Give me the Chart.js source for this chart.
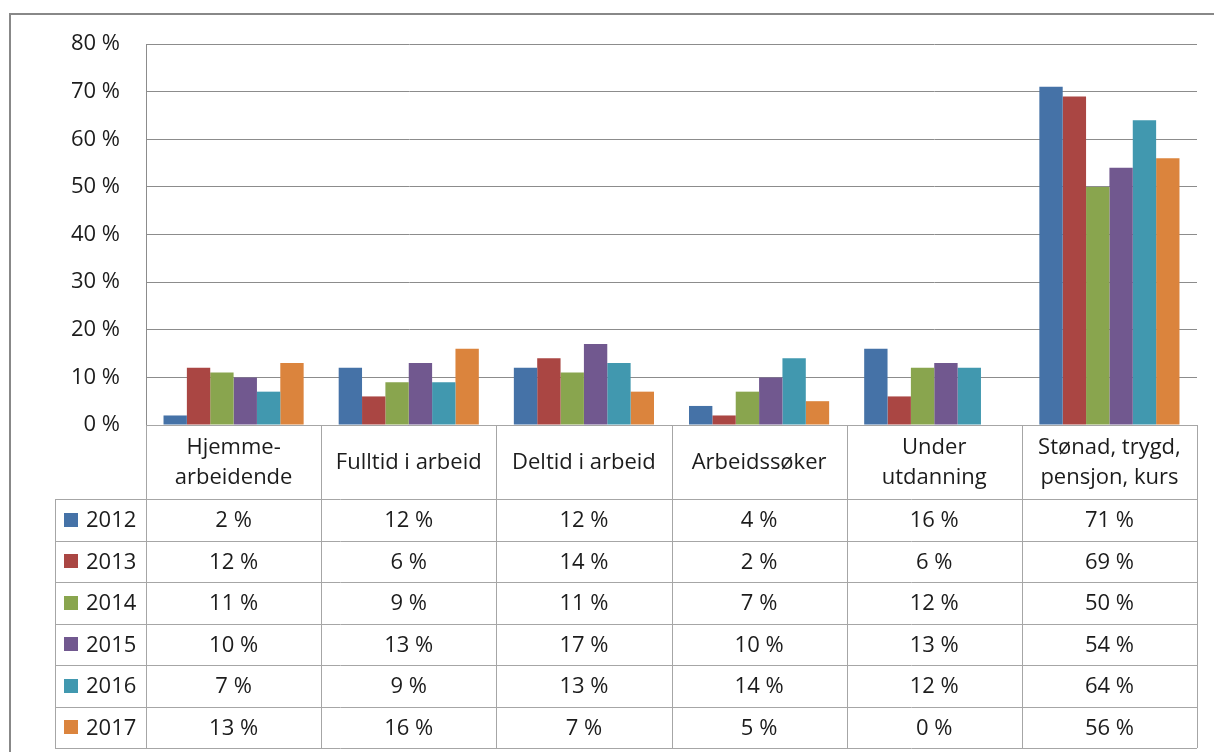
<!doctype html>
<html lang="no">
<head>
<meta charset="utf-8">
<title>Status etter år</title>
<script src="https://cdn.jsdelivr.net/npm/chart.js@4.4.1/dist/chart.umd.min.js"></script>
<style>
  html, body { margin: 0; padding: 0; background: #fff; }
  #wrap { position: relative; width: 1214px; height: 752px; }
</style>
</head>
<body>
<div id="wrap">
  <canvas id="myChart" width="1214" height="752"></canvas>
</div>
<script>
// data
var categories = [["Hjemme-", "arbeidende"], "Fulltid i arbeid", "Deltid i arbeid", "Arbeidssøker", ["Under", "utdanning"], ["Stønad, trygd,", "pensjon, kurs"]];
var years = ["2012", "2013", "2014", "2015", "2016", "2017"];
var v2012 = [2, 12, 12, 4, 16, 71];
var v2013 = [12, 6, 14, 2, 6, 69];
var v2014 = [11, 9, 11, 7, 12, 50];
var v2015 = [10, 13, 17, 10, 13, 54];
var v2016 = [7, 9, 13, 14, 12, 64];
var v2017 = [13, 16, 7, 5, 0, 56];
var yMax = 80, yStep = 10;

var colors = ["#4572A7", "#AA4643", "#89A54E", "#71588F", "#4198AF", "#DB843D"];
var values = [v2012, v2013, v2014, v2015, v2016, v2017];
var FONT = "'Open Sans', sans-serif";
var FSIZE = 22;
var TXT = "#1c1c1c";

function pct(v) { return v + " %"; }

// draws the data table under the plot + the outer frame
var tablePlugin = {
  id: "dataTable",
  afterDraw: function (chart) {
    var ctx = chart.ctx, x = chart.scales.x, area = chart.chartArea;
    var n = categories.length;
    var colW = (area.right - area.left) / n;
    var top = Math.round(area.bottom), headH = 74, rowH = 41.5, labelL = 55;
    var bottom = top + headH + rowH * years.length;
    var i, j, y, cx;

    ctx.save();
    ctx.strokeStyle = "#a6a6a6";
    ctx.lineWidth = 1;
    ctx.beginPath();
    // horizontal lines
    ctx.moveTo(area.left, top + 0.5);
    ctx.lineTo(area.right, top + 0.5);
    for (j = 0; j <= years.length; j++) {
      y = Math.round(top + headH + j * rowH) + 0.5;
      ctx.moveTo(labelL, y);
      ctx.lineTo(area.right, y);
    }
    // vertical lines
    ctx.moveTo(labelL + 0.5, top + headH);
    ctx.lineTo(labelL + 0.5, bottom);
    for (i = 0; i <= n; i++) {
      var lx = Math.round(area.left + i * colW) + 0.5;
      ctx.moveTo(lx, top);
      ctx.lineTo(lx, bottom);
    }
    ctx.stroke();

    // category header
    ctx.fillStyle = TXT;
    ctx.font = FSIZE + "px " + FONT;
    ctx.textAlign = "center";
    ctx.textBaseline = "middle";
    for (i = 0; i < n; i++) {
      cx = x.getPixelForValue(i);
      var lines = [].concat(categories[i]);
      var lh = 30;
      var y0 = top + headH / 2 - (lines.length - 1) * lh / 2 + 1;
      for (j = 0; j < lines.length; j++) ctx.fillText(lines[j], cx, y0 + j * lh);
    }

    // rows
    for (j = 0; j < years.length; j++) {
      y = top + headH + j * rowH + rowH / 2 + 1;
      ctx.fillStyle = colors[j];
      ctx.fillRect(64, Math.round(y - 8), 14, 14);
      ctx.fillStyle = TXT;
      ctx.textAlign = "left";
      ctx.fillText(years[j], 86, y);
      ctx.textAlign = "center";
      for (i = 0; i < n; i++) {
        ctx.fillText(pct(values[j][i]), x.getPixelForValue(i), y);
      }
    }

    // outer frame
    ctx.strokeStyle = "#888";
    ctx.lineWidth = 2;
    ctx.beginPath();
    ctx.moveTo(10, 760);
    ctx.lineTo(10, 14);
    ctx.lineTo(1220, 14);
    ctx.stroke();
    ctx.restore();
  }
};

var datasets = [];
for (var k = 0; k < years.length; k++) {
  datasets.push({
    label: years[k],
    data: values[k],
    backgroundColor: colors[k],
    borderWidth: 0,
    categoryPercentage: 0.8,
    barPercentage: 1.0
  });
}

var ctx = document.getElementById("myChart").getContext("2d");
new Chart(ctx, {
  type: "bar",
  data: { labels: categories, datasets: datasets },
  options: {
    responsive: false,
    animation: false,
    layout: { padding: { left: 0, right: 17, top: 44, bottom: 327 } },
    plugins: { legend: { display: false }, tooltip: { enabled: false } },
    scales: {
      x: { display: false },
      y: {
        min: 0,
        max: yMax,
        afterFit: function (s) { s.width = 146; },
        ticks: {
          stepSize: yStep,
          padding: 26,
          color: TXT,
          font: { family: FONT, size: FSIZE },
          callback: function (v) { return pct(v); }
        },
        grid: { color: "#8c8c8c", drawTicks: false },
        border: { color: "#8c8c8c" }
      }
    }
  },
  plugins: [tablePlugin]
});
</script>
</body>
</html>
